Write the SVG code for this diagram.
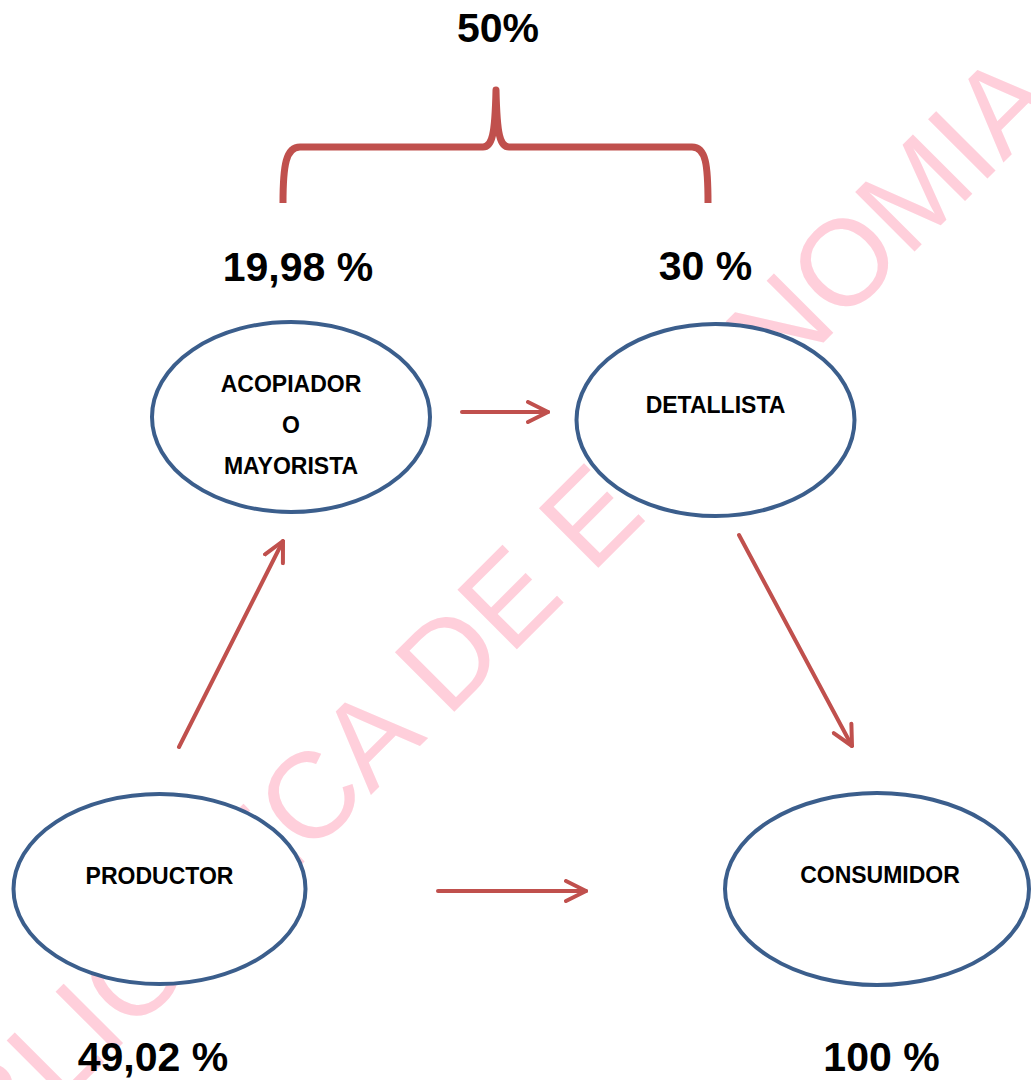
<svg xmlns="http://www.w3.org/2000/svg" width="1031" height="1080" viewBox="0 0 1031 1080">
<style>
.wm{font-family:"Liberation Sans",Arial,sans-serif;font-size:122px;fill:#FFCFDB}
.node{fill:#fff;stroke:#3B5E8C;stroke-width:4}
.lbl{font-family:"Liberation Sans",Arial,sans-serif;font-weight:bold;font-size:23px;fill:#000;text-anchor:middle}
.pct{font-family:"Liberation Sans",Arial,sans-serif;font-weight:bold;font-size:41px;fill:#000;text-anchor:middle}
.conn{stroke:#C0504D;stroke-width:4;fill:none;stroke-linecap:round}
</style>
<defs>
<marker id="ah" viewBox="0 0 24 24" refX="22" refY="12" markerWidth="24" markerHeight="24" markerUnits="userSpaceOnUse" orient="auto">
<path d="M2,2 L22,12 L2,22" fill="none" stroke="#C0504D" stroke-width="4" stroke-linecap="round" stroke-linejoin="round"/>
</marker>
</defs>
<rect width="1031" height="1080" fill="#fff"/>
<text class="wm" transform="translate(-80,1246) rotate(-45)">BIBLIOTECA DE ECONOMIA</text>

<g id="brace">
<path d="M283,203 C283,165 286,147 300,147 L483,147 C492,147 495,135 496,90 C497,135 500,147 509,147 L692,147 C706,147 708,165 708,203" fill="none" stroke="#C0504D" stroke-width="7" stroke-linejoin="round"/>
</g>

<g id="connectors">
<line class="conn" x1="462" y1="412" x2="548" y2="412" marker-end="url(#ah)"/>
<line class="conn" x1="438" y1="891" x2="586" y2="891" marker-end="url(#ah)"/>
<line class="conn" x1="179" y1="747" x2="283" y2="541" marker-end="url(#ah)"/>
<line class="conn" x1="739" y1="535" x2="852" y2="746" marker-end="url(#ah)"/>
</g>

<g id="node-acopiador">
<ellipse class="node" cx="291" cy="417" rx="139" ry="95"/>
<text class="lbl" x="291" y="392">ACOPIADOR</text>
<text class="lbl" x="291" y="433">O</text>
<text class="lbl" x="291" y="474">MAYORISTA</text>
</g>
<g id="node-detallista">
<ellipse class="node" cx="715.5" cy="420" rx="139" ry="96"/>
<text class="lbl" x="715.5" y="413">DETALLISTA</text>
</g>
<g id="node-productor">
<ellipse class="node" cx="159.5" cy="889" rx="146" ry="95"/>
<text class="lbl" x="159.5" y="884">PRODUCTOR</text>
</g>
<g id="node-consumidor">
<ellipse class="node" cx="877" cy="889" rx="152" ry="96"/>
<text class="lbl" x="880" y="883">CONSUMIDOR</text>
</g>

<g id="labels">
<text class="pct" x="498" y="42">50%</text>
<text class="pct" x="298" y="281">19,98 %</text>
<text class="pct" x="705.5" y="280">30 %</text>
<text class="pct" x="153" y="1071">49,02 %</text>
<text class="pct" x="881.5" y="1071">100 %</text>
</g>
</svg>
